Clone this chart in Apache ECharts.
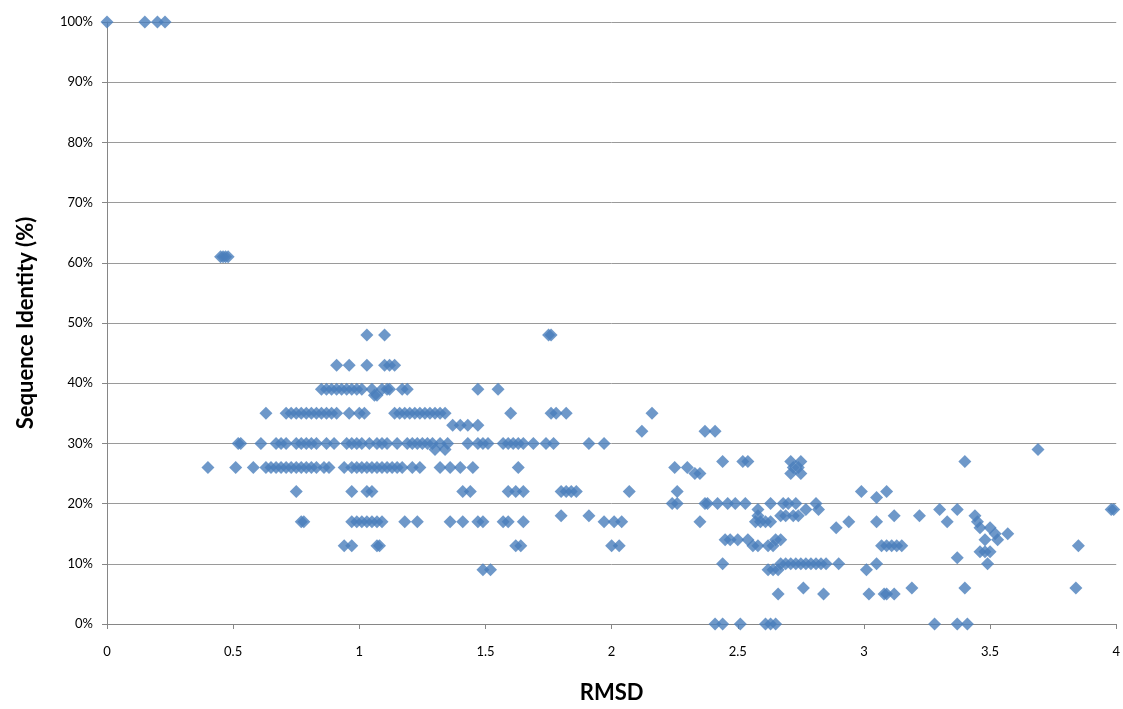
<!DOCTYPE html>
<html>
<head>
<meta charset="utf-8">
<script src="https://cdn.jsdelivr.net/npm/echarts@6/dist/echarts.min.js"></script>
<style>
  html, body { margin: 0; padding: 0; background: #fff; }
  #chart { width: 1123px; height: 709px; }
</style>
</head>
<body>
<div id="chart"></div>
<script>
// Sequence identity levels (%) and the RMSD values observed at each level
const identityLevels = [100, 61, 48, 43, 39, 38, 35, 33, 32, 30, 29, 27, 26, 25, 22, 21, 20, 19, 18, 17, 16, 15, 14, 13, 12, 11, 10, 9, 6, 5, 0];
const rmsdAtLevel = [
  [0, 0.15, 0.20, 0.23],
  [0.45, 0.46, 0.47, 0.48],
  [1.03, 1.10, 1.75, 1.76],
  [0.91, 0.96, 1.03, 1.10, 1.12, 1.14],
  [0.85, 0.87, 0.89, 0.91, 0.93, 0.95, 0.97, 0.99, 1.01, 1.05, 1.09, 1.11, 1.12, 1.17, 1.19, 1.47, 1.55],
  [1.06, 1.07],
  [0.63, 0.71, 0.73, 0.75, 0.77, 0.79, 0.81, 0.83, 0.85, 0.87, 0.89, 0.91, 0.96, 1.00, 1.02, 1.14, 1.16, 1.18, 1.20, 1.22, 1.24, 1.26, 1.28, 1.30, 1.32, 1.34, 1.60, 1.76, 1.78, 1.82, 2.16],
  [1.37, 1.40, 1.43, 1.47],
  [2.12, 2.37, 2.41],
  [0.52, 0.53, 0.61, 0.67, 0.69, 0.71, 0.75, 0.77, 0.79, 0.81, 0.83, 0.87, 0.90, 0.95, 0.97, 0.99, 1.01, 1.04, 1.07, 1.09, 1.11, 1.15, 1.19, 1.21, 1.23, 1.25, 1.27, 1.29, 1.32, 1.35, 1.43, 1.47, 1.49, 1.51, 1.57, 1.59, 1.61, 1.63, 1.65, 1.69, 1.74, 1.77, 1.91, 1.97],
  [1.30, 1.34, 3.69],
  [2.44, 2.52, 2.54, 2.71, 2.75, 3.40],
  [0.40, 0.51, 0.58, 0.63, 0.65, 0.67, 0.69, 0.71, 0.73, 0.75, 0.77, 0.79, 0.81, 0.83, 0.86, 0.88, 0.94, 0.97, 0.99, 1.01, 1.03, 1.05, 1.07, 1.09, 1.11, 1.13, 1.15, 1.17, 1.21, 1.24, 1.32, 1.36, 1.40, 1.45, 1.63, 2.25, 2.30, 2.72, 2.74],
  [2.33, 2.35, 2.71, 2.75],
  [0.75, 0.97, 1.03, 1.05, 1.41, 1.44, 1.59, 1.62, 1.65, 1.80, 1.82, 1.84, 1.86, 2.07, 2.26, 2.99, 3.09],
  [3.05],
  [2.24, 2.26, 2.37, 2.38, 2.42, 2.46, 2.49, 2.53, 2.63, 2.68, 2.70, 2.73, 2.81],
  [2.58, 2.77, 2.82, 3.30, 3.37, 3.98, 3.99],
  [1.80, 1.91, 2.58, 2.67, 2.69, 2.72, 2.74, 3.12, 3.22, 3.44],
  [0.77, 0.78, 0.97, 0.99, 1.01, 1.03, 1.05, 1.07, 1.09, 1.18, 1.23, 1.36, 1.41, 1.47, 1.49, 1.57, 1.59, 1.65, 1.97, 2.01, 2.04, 2.35, 2.57, 2.59, 2.61, 2.63, 2.94, 3.05, 3.33, 3.45],
  [2.89, 3.46, 3.50],
  [3.52, 3.57],
  [2.45, 2.47, 2.50, 2.54, 2.65, 2.67, 3.48, 3.53],
  [0.94, 0.97, 1.07, 1.08, 1.62, 1.64, 2.00, 2.03, 2.56, 2.58, 2.62, 2.64, 3.07, 3.09, 3.11, 3.13, 3.15, 3.85],
  [3.46, 3.48, 3.50],
  [3.37],
  [2.44, 2.67, 2.69, 2.71, 2.73, 2.75, 2.77, 2.79, 2.81, 2.83, 2.85, 2.90, 3.05, 3.49],
  [1.49, 1.52, 2.62, 2.64, 2.66, 3.01],
  [2.76, 3.19, 3.40, 3.84],
  [2.66, 2.84, 3.02, 3.08, 3.09, 3.12],
  [2.41, 2.44, 2.51, 2.61, 2.63, 2.65, 3.28, 3.37, 3.41]
];
const xTickLabels = ['0', '0.5', '1', '1.5', '2', '2.5', '3', '3.5', '4'];

const points = [];
identityLevels.forEach((level, i) => {
  rmsdAtLevel[i].forEach(r => points.push([r, level]));
});

const FONT = 'Lato, "Open Sans", sans-serif';
const chart = echarts.init(document.getElementById('chart'), null, { renderer: 'canvas' });
chart.setOption({
  animation: false,
  backgroundColor: '#ffffff',
  grid: { left: 107, right: 5, top: 22, bottom: 81, containLabel: false },
  xAxis: {
    type: 'value',
    min: 0, max: 4, interval: 0.5,
    name: 'RMSD',
    nameLocation: 'middle',
    nameGap: 58,
    nameTextStyle: { fontFamily: FONT, fontSize: 22, fontWeight: 'bold', color: '#000' },
    axisLine: { show: true, lineStyle: { color: '#868686', width: 1 } },
    axisTick: { show: true, inside: false, length: 5, lineStyle: { color: '#868686' } },
    axisLabel: {
      fontFamily: FONT, fontSize: 13, color: '#000', margin: 21,
      formatter: v => xTickLabels[Math.round(v / 0.5)]
    },
    splitLine: { show: false }
  },
  yAxis: {
    type: 'value',
    min: 0, max: 100, interval: 10,
    name: 'Sequence Identity (%)',
    nameLocation: 'middle',
    nameGap: 70,
    nameTextStyle: { fontFamily: FONT, fontSize: 22, fontWeight: 'bold', color: '#000' },
    axisLine: { show: true, lineStyle: { color: '#868686', width: 1 } },
    axisTick: { show: true, inside: false, length: 5, lineStyle: { color: '#868686' } },
    axisLabel: { fontFamily: FONT, fontSize: 13, color: '#000', margin: 14, formatter: '{value}%' },
    splitLine: { show: true, lineStyle: { color: '#9a9a9a', width: 1 } }
  },
  series: [{
    type: 'scatter',
    data: points,
    symbol: 'diamond',
    symbolSize: [13, 13],
    itemStyle: { color: '#4a7ebb' }
  }]
});
</script>
</body>
</html>
